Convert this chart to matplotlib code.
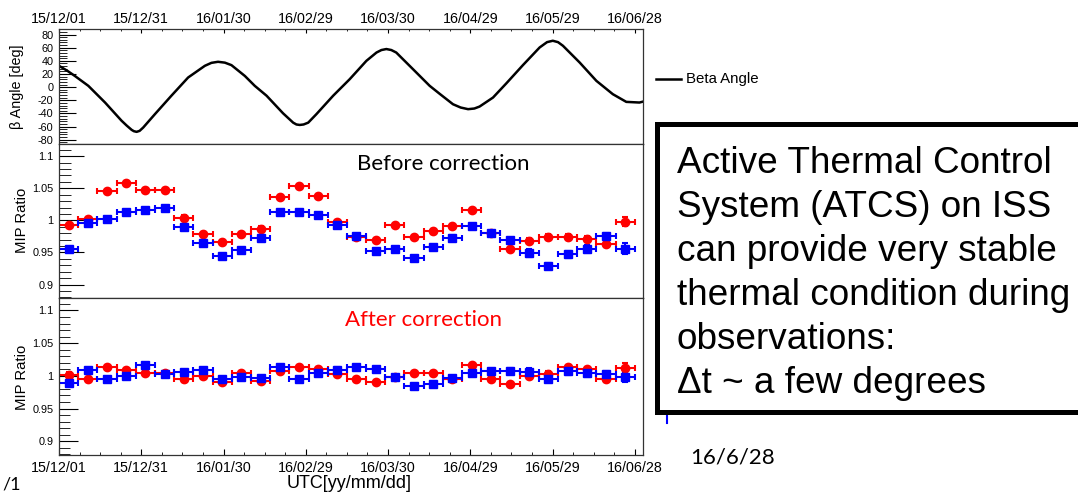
import numpy as np
import matplotlib
matplotlib.use('Agg')
import matplotlib.pyplot as plt
import matplotlib.dates as mdates
from matplotlib.ticker import MultipleLocator, FuncFormatter
from matplotlib.patches import Rectangle
from matplotlib.lines import Line2D

plt.rcParams['font.family'] = ['Liberation Sans', 'DejaVu Sans']
plt.rcParams['axes.unicode_minus'] = False

# beta angle (days since 2015-12-01, degrees)
beta_day = [0, 3, 5.8, 10.7, 16.8, 22.8, 24.7, 26.5, 27.3, 28.3, 29.4, 30.7, 35, 41,
            47.1, 53.2, 55.6, 58, 60.5, 62.9, 67.8, 71.4, 75.7, 81.7, 85.4, 86.6, 87.8,
            89.2, 90.9, 93.9, 100, 106, 112.1, 115.8, 117.6, 119.4, 121.2, 123, 129.1,
            135.2, 138.8, 143.7, 146.5, 149.2, 151.5, 153.4, 158.3, 163.2, 169.2, 175.3,
            178, 180.1, 182, 183.8, 189.9, 196, 202, 206.9, 211.7, 213]
beta_deg = [32.5, 25, 17, 2, -23.4, -51, -58.5, -65, -67, -68, -66.5, -61.5, -41, -13,
            14.7, 32.5, 37, 38.6, 37.3, 33.5, 17, 2, -13, -39.7, -54, -56.8, -57.5,
            -56.8, -54, -41, -13, 12, 40, 52.7, 56.5, 58, 56.5, 52.7, 27.4,
            2, -10, -26, -31, -33.5, -32.5, -29.5, -15.8, 6, 33.5, 60.4,
            68.5, 70.6, 68.5, 63, 37.5, 9.6, -10.7, -22.4, -23.4, -22]

# weekly bins, 30 of them
week_mid = np.arange(3.5, 210, 7.0)

before_red = [0.992, 1.0015, 1.045, 1.058, 1.047, 1.047, 1.004, 0.978, 0.966, 0.978,
              0.987, 1.036, 1.054, 1.038, 0.997, 0.974, 0.970, 0.992, 0.974, 0.983,
              0.991, 1.016, 0.981, 0.956, 0.968, 0.974, 0.974, 0.971, 0.963, 0.998]
before_blue = [0.955, 0.996, 1.0015, 1.013, 1.016, 1.019, 0.990, 0.964, 0.945, 0.954,
               0.972, 1.013, 1.013, 1.008, 0.992, 0.975, 0.952, 0.955, 0.942, 0.958,
               0.973, 0.991, 0.981, 0.969, 0.949, 0.929, 0.947, 0.955, 0.975, 0.956]
after_red = [1.0015, 0.995, 1.013, 1.009, 1.004, 1.004, 0.995, 1.0, 0.990, 1.004,
             0.992, 1.007, 1.013, 1.010, 1.003, 0.995, 0.990, 0.998, 1.004, 1.004,
             0.995, 1.017, 0.995, 0.988, 1.0, 1.003, 1.013, 1.010, 0.995, 1.012]
after_blue = [0.989, 1.009, 0.995, 1.0, 1.016, 1.003, 1.006, 1.009, 0.995, 0.998,
              0.996, 1.014, 0.995, 1.005, 1.009, 1.014, 1.010, 0.998, 0.985, 0.988,
              0.996, 1.005, 1.008, 1.008, 1.006, 0.995, 1.008, 1.004, 1.003, 0.998]
err_red = [0.004, 0.004, 0.003, 0.003, 0.003, 0.003, 0.004, 0.004, 0.003, 0.004,
           0.004, 0.003, 0.003, 0.003, 0.003, 0.003, 0.003, 0.003, 0.003, 0.004,
           0.004, 0.003, 0.003, 0.003, 0.004, 0.004, 0.004, 0.004, 0.004, 0.007]
err_blue = [0.003, 0.003, 0.003, 0.003, 0.003, 0.003, 0.003, 0.003, 0.003, 0.003,
            0.004, 0.003, 0.003, 0.003, 0.004, 0.003, 0.003, 0.003, 0.003, 0.003,
            0.004, 0.004, 0.003, 0.004, 0.006, 0.004, 0.006, 0.006, 0.005, 0.008]

box_lines = ['Active Thermal Control', 'System (ATCS) on ISS', 'can provide very stable',
             'thermal condition during', 'observations:', '\u0394t ~ a few degrees']

W, H = 1078, 492
t0 = mdates.date2num(np.datetime64('2015-12-01'))
def fx(px): return px / W
def fy(py): return 1 - py / H

fig = plt.figure(figsize=(W / 100, H / 100), dpi=100)
left, width = fx(59), fx(643) - fx(59)
ax_b = fig.add_axes([left, fy(144), width, fy(29) - fy(144)])
ax_m = fig.add_axes([left, fy(298), width, fy(144) - fy(298)])
ax_a = fig.add_axes([left, fy(455), width, fy(298) - fy(455)])

for ax in (ax_b, ax_m, ax_a):
    ax.set_xlim(t0, t0 + 213)
    ax.xaxis.set_major_locator(MultipleLocator(30))
    ax.xaxis.set_minor_locator(MultipleLocator(7.5))
    ax.xaxis.set_major_formatter(mdates.DateFormatter('%y/%m/%d'))
    for s in ax.spines.values():
        s.set_color('#333333')
        s.set_linewidth(0.9)

# beta angle panel
ax_b.plot(t0 + np.array(beta_day), beta_deg, color='black', lw=1.8, solid_joinstyle='round')
ax_b.set_ylim(-86.5, 88.5)
ax_b.yaxis.set_major_locator(MultipleLocator(20))
ax_b.yaxis.set_minor_locator(MultipleLocator(4))
ax_b.tick_params(axis='x', which='both', direction='in', top=True, bottom=False,
                 labeltop=True, labelbottom=False, labelsize=10.3, pad=2)
ax_b.tick_params(axis='x', which='major', length=3)
ax_b.tick_params(axis='x', which='minor', length=1.5)
ax_b.tick_params(axis='y', which='both', direction='in', right=False, labelsize=7.8, pad=4)
ax_b.tick_params(axis='y', which='major', length=12.5)
ax_b.tick_params(axis='y', which='minor', length=6)

fmt = FuncFormatter(lambda v, p: '%g' % round(v, 3))
for ax, red, blue, ymaj, ymin in ((ax_m, before_red, before_blue, 18, 8.5),
                                  (ax_a, after_red, after_blue, 14, 8)):
    ax.errorbar(t0 + week_mid, red, xerr=3.5, yerr=err_red, fmt='o', color='#ff0000',
                ms=6, capsize=2.2, elinewidth=1.5, capthick=1.5)
    ax.errorbar(t0 + week_mid, blue, xerr=3.5, yerr=err_blue, fmt='s', color='#0000ff',
                ms=6, capsize=2.2, elinewidth=1.5, capthick=1.5)
    ax.set_ylim(0.879, 1.119)
    ax.yaxis.set_major_locator(MultipleLocator(0.05))
    ax.yaxis.set_minor_locator(MultipleLocator(0.01))
    ax.yaxis.set_major_formatter(fmt)
    ax.tick_params(axis='y', which='both', direction='in', right=False, labelsize=7.8, pad=4)
    ax.tick_params(axis='y', which='major', length=ymaj)
    ax.tick_params(axis='y', which='minor', length=ymin)

ax_m.tick_params(axis='x', which='both', length=0, labelbottom=False)
ax_a.tick_params(axis='x', which='both', direction='in', top=False, labelsize=10.3, pad=4)
ax_a.tick_params(axis='x', which='major', length=4)
ax_a.tick_params(axis='x', which='minor', length=2)

# axis titles
fig.text(fx(17), fy(87), '\u03b2 Angle [deg]', rotation=90, ha='center', va='center', fontsize=10.4)
fig.text(fx(21.5), fy(220), 'MIP Ratio', rotation=90, ha='center', va='center', fontsize=10.7)
fig.text(fx(21.5), fy(377), 'MIP Ratio', rotation=90, ha='center', va='center', fontsize=10.7)
fig.text(fx(412), fy(483), 'UTC[yy/mm/dd]', ha='right', va='center', fontsize=13)

# panel captions
fig.text(fx(357), fy(170), 'Before correction', color='black', fontsize=16,
         family=['Lato', 'DejaVu Sans'], va='baseline')
fig.text(fx(345), fy(326), 'After correction', color='#ff0000', fontsize=16,
         family=['Lato', 'DejaVu Sans'], va='baseline')

# beta angle legend
fig.add_artist(Line2D([fx(656), fx(681)], [fy(79), fy(79)], color='black', lw=1.8))
fig.text(fx(686), fy(79), 'Beta Angle', va='center', fontsize=10.8)

# legend of the ratio panels, mostly hidden under the box
fig.add_artist(Line2D([fx(667), fx(667)], [fy(398), fy(423)], color='#0000ff', lw=1.5))
fig.text(fx(688), fy(409), 'vs time', va='center', fontsize=9, color='#333333')

# text box
fig.add_artist(Rectangle((fx(657.5), fy(411.5)), 0.5, fy(124) - fy(411.5),
                         transform=fig.transFigure, facecolor='white',
                         edgecolor='black', lw=3.6, zorder=5))
for i, line in enumerate(box_lines):
    fig.text(fx(677), fy(173 + 44 * i), line, fontsize=26.6, va='baseline', zorder=6)

fig.text(fx(690), fy(464), '16/6/28', fontsize=16, family=['Lato', 'DejaVu Sans'], va='baseline')
fig.text(fx(2), fy(489), '/1', fontsize=13, family=['Lato', 'DejaVu Sans'], va='baseline')

fig.savefig('out.png', dpi=100)
